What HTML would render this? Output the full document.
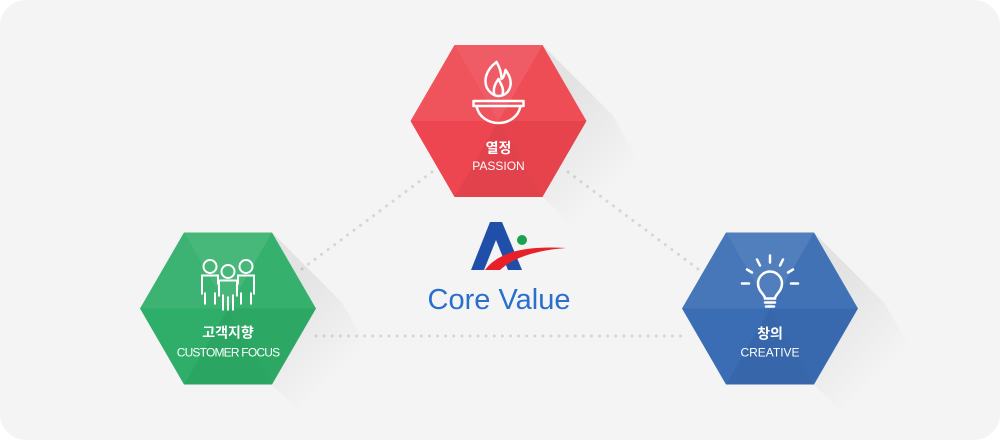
<!DOCTYPE html>
<html><head><meta charset="utf-8"><style>
html,body{margin:0;padding:0;background:#fff;overflow:hidden}
svg{display:block}
text{font-family:"Liberation Sans","Noto Sans CJK KR",sans-serif;fill:#fff;text-anchor:middle}
</style></head><body>
<svg width="1000" height="440" viewBox="0 0 1000 440">
<defs>
<linearGradient id="sh" gradientUnits="userSpaceOnUse" x1="60" y1="-20" x2="130" y2="50">
<stop offset="0" stop-color="#000" stop-opacity="0.07"/>
<stop offset="1" stop-color="#000" stop-opacity="0"/>
</linearGradient>
<g id="facets">
<polygon points="0,0 -44,-76 44,-76" fill="#fff" opacity="0.12"/>
<polygon points="0,0 44,-76 88,0" fill="#fff" opacity="0.04"/>
<polygon points="0,0 -88,0 -44,-76" fill="#fff" opacity="0.07"/>
<polygon points="0,0 88,0 44,76" fill="#000" opacity="0.03"/>
<polygon points="0,0 -44,76 44,76" fill="#000" opacity="0.05"/>
</g>
<polygon id="shadow" points="44,-76 88,0 44,76 114,146 158,70 114,-6" fill="url(#sh)"/>
</defs>
<rect x="0" y="0" width="1000" height="440" rx="26" fill="#f4f4f4"/>
<g stroke="#d6d6d6" stroke-width="3" stroke-dasharray="0.1 8" stroke-linecap="round">
<line x1="432" y1="172" x2="298" y2="272"/>
<line x1="568" y1="172" x2="702" y2="272"/>
<line x1="316" y1="336" x2="684" y2="336"/>
</g>
<!-- red -->
<g transform="translate(498.5,121)">
<use href="#shadow"/>
<polygon points="-88,0 -44,-76 44,-76 88,0 44,76 -44,76" fill="#ee4650"/>
<use href="#facets"/>
<g fill="none" stroke="#fff" stroke-width="2.5" stroke-linejoin="round" stroke-linecap="round">
<path d="M-2,-59 C-14,-50 -14,-40 -12,-34 C-9,-28 -4,-25 0,-25 C6,-25 11,-29 12,-36 C13,-42 10,-47 7,-51 C6,-46 5,-43 3,-42 C3,-49 1,-54 -2,-59 Z"/>
<path d="M-4,-26 C-6,-32 -3,-38 0,-42 C2,-37 6,-33 4,-26"/>
<path d="M-25,-20 L25,-20 L25,-15 L-25,-15 Z"/>
<path d="M-22,-15 C-20,-4 -10,2 0,2 C10,2 20,-4 22,-15"/>
</g>
<text y="32" font-size="14" font-weight="bold">열정</text>
<text y="49" font-size="12">PASSION</text>
</g>
<!-- green -->
<g transform="translate(228,308.5)">
<use href="#shadow"/>
<polygon points="-88,0 -44,-76 44,-76 88,0 44,76 -44,76" fill="#2eae68"/>
<use href="#facets"/>
<g fill="none" stroke="#fff" stroke-width="2">
<circle cx="-18" cy="-42" r="6.5"/><circle cx="18" cy="-42" r="6.5"/><circle cx="0" cy="-37" r="6.5"/>
<path d="M-10,-24 L-10,-33 L-26,-33 L-26,-14 M-23,-16 L-23,-4 M-13,-16 L-13,-4"/>
<path d="M10,-24 L10,-33 L26,-33 L26,-14 M23,-16 L23,-4 M13,-16 L13,-4"/>
<path d="M-9,-12 L-9,-28 L9,-28 L9,-12 M-5,-14 L-5,2 M5,-14 L5,2 M0,-12 L0,2"/>
</g>
<text y="29" font-size="14" font-weight="bold">고객지향</text>
<text y="48" font-size="12" letter-spacing="-0.8">CUSTOMER FOCUS</text>
</g>
<!-- blue -->
<g transform="translate(770,308.5)">
<use href="#shadow"/>
<polygon points="-88,0 -44,-76 44,-76 88,0 44,76 -44,76" fill="#3a6db4"/>
<use href="#facets"/>
<g fill="none" stroke="#fff" stroke-width="2.5" stroke-linecap="round">
<path d="M-5,-10 C-5,-14 -12,-17 -12,-25 C-12,-32 -6,-37 0,-37 C6,-37 12,-32 12,-25 C12,-17 5,-14 5,-10 Z"/>
<path d="M-5,-6 L5,-6 M-4,-2 L4,-2"/>
<path d="M0,-53 L0,-46 M-13,-49 L-10,-43 M13,-49 L10,-43 M-23,-39 L-18,-36 M23,-39 L18,-36 M-28,-25 L-21,-25 M28,-25 L21,-25"/>
</g>
<text y="30" font-size="14" font-weight="bold">창의</text>
<text y="48" font-size="12">CREATIVE</text>
</g>
<!-- logo -->
<polygon points="490,222 502,222 522,270 508,270 496,240 484,270 471,270" fill="#1f4fa8"/>
<path d="M485,270 C500,250 530,246 566,248 C540,250 515,256 500,270 Z" fill="#e8202a"/>
<circle cx="522" cy="240" r="5" fill="#1aa34a"/>
<text x="499" y="309" font-size="29" style="fill:#2b6fcc">Core Value</text>
</svg>
</body></html>
